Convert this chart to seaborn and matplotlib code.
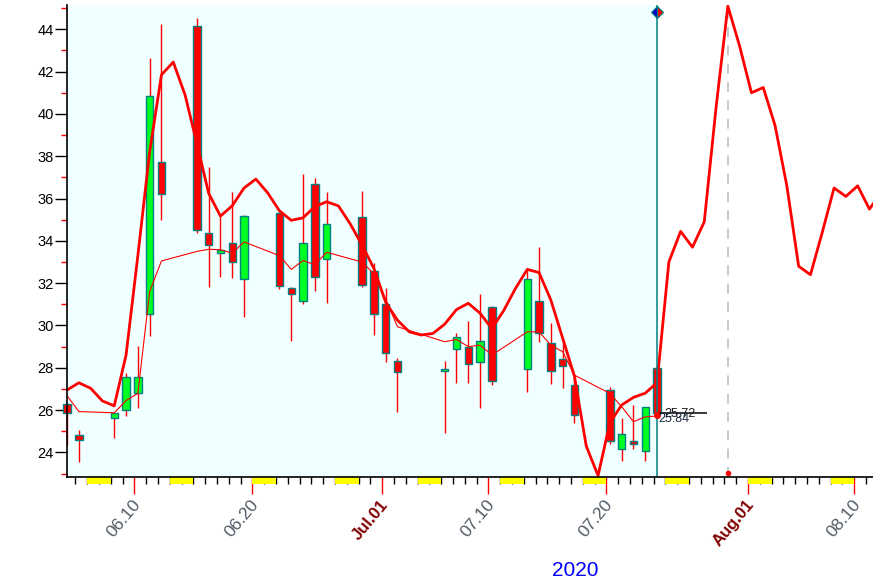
import pandas as pd
import matplotlib
matplotlib.use("Agg")
import matplotlib.pyplot as plt
import matplotlib.transforms as mtransforms
from matplotlib.patches import Rectangle
import seaborn as sns

# =========================
# data
# =========================
candle_dates = [
    "2020-06-04", "2020-06-05", "2020-06-08", "2020-06-09", "2020-06-10", "2020-06-11",
    "2020-06-12", "2020-06-15", "2020-06-16", "2020-06-17", "2020-06-18", "2020-06-19",
    "2020-06-22", "2020-06-23", "2020-06-24", "2020-06-25", "2020-06-26", "2020-06-29",
    "2020-06-30", "2020-07-01", "2020-07-02", "2020-07-06", "2020-07-07", "2020-07-08",
    "2020-07-09", "2020-07-10", "2020-07-13", "2020-07-14", "2020-07-15", "2020-07-16",
    "2020-07-17", "2020-07-20", "2020-07-21", "2020-07-22", "2020-07-23", "2020-07-24",
]
opens = [26.30, 24.82, 25.61, 26.00, 26.79, 30.52, 37.74, 44.17, 34.35, 33.41, 33.88, 32.18,
         35.30, 31.75, 31.14, 36.69, 33.13, 35.11, 32.59, 31.00, 28.33, 27.83, 28.88, 28.99,
         28.27, 30.88, 27.92, 31.17, 29.18, 28.43, 27.17, 26.96, 24.14, 24.55, 24.05, 27.97]
highs = [26.33, 25.05, 25.86, 27.73, 29.03, 42.63, 44.25, 44.52, 37.50, 35.17, 36.29, 35.20,
         35.35, 31.80, 37.16, 36.96, 36.29, 36.35, 32.94, 31.78, 28.44, 28.32, 29.63, 30.21,
         31.47, 30.90, 32.70, 33.69, 30.10, 29.15, 27.57, 27.10, 25.61, 26.24, 26.15, 28.00]
lows = [24.35, 23.56, 24.66, 25.72, 26.08, 29.50, 34.98, 34.35, 31.80, 32.30, 32.26, 30.41,
        31.71, 29.28, 31.00, 31.64, 31.07, 31.83, 29.55, 28.26, 25.92, 24.93, 27.26, 27.26,
        26.11, 27.18, 26.87, 29.23, 27.23, 27.03, 25.40, 24.38, 23.60, 24.14, 23.60, 25.80]
closes = [25.87, 24.57, 25.84, 27.57, 27.57, 40.86, 36.21, 34.51, 33.79, 33.57, 33.01, 35.19,
          31.86, 31.48, 33.88, 32.30, 34.79, 31.90, 30.52, 28.68, 27.78, 27.95, 29.47, 28.17,
          29.28, 27.37, 32.19, 29.65, 27.84, 28.08, 25.76, 24.53, 24.85, 24.38, 26.13, 25.84]
# thin moving-average line (one value per trading day)
ma_values = [26.68, 25.93, 25.87, 26.45, 26.79, 31.60, 33.05, 33.50, 33.60, 33.58, 33.42, 33.95,
             33.30, 32.65, 33.07, 32.87, 33.46, 33.00, 32.45, 31.25, 29.94, 29.23, 29.34, 29.00,
             29.07, 28.60, 29.70, 29.70, 29.07, 28.76, 27.65, 26.79, 26.16, 25.45, 25.68, 25.72]

# thick projection line (one value per calendar day, starting 06.04)
trend_start = "2020-06-04"
trend_values = [26.95, 27.29, 27.03, 26.43, 26.20, 28.60, 33.30, 38.20, 41.85, 42.45,
                40.90, 38.60, 36.25, 35.17, 35.66, 36.50, 36.92, 36.27, 35.42, 34.97,
                35.09, 35.62, 35.85, 35.65, 34.80, 33.80, 32.70, 31.10, 30.25, 29.70,
                29.55, 29.62, 30.06, 30.75, 31.05, 30.58, 29.85, 30.70, 31.75, 32.65,
                32.50, 31.20, 29.40, 27.60, 24.30, 22.90, 25.40, 26.24, 26.60, 26.80,
                27.30, 33.00, 34.45, 33.70, 34.90, 40.30, 45.10, 43.20, 41.00, 41.25,
                39.45, 36.60, 32.80, 32.40, 34.40, 36.50, 36.10, 36.60, 35.50, 36.30]

tick_dates = ["2020-06-10", "2020-06-20", "2020-07-01", "2020-07-10", "2020-07-20", "2020-08-01", "2020-08-10"]
tick_labels = ["06.10", "06.20", "Jul.01", "07.10", "07.20", "Aug.01", "08.10"]
month_labels = ["Jul.01", "Aug.01"]

last_close = 25.84
last_ma = 25.72
peak_date = "2020-07-30"
year_label = "2020"

# =========================
# helpers
# =========================
BASE = pd.Timestamp("2020-05-31")
SHIFT = 0.3  # marks sit a little right of the day tick


def day_num(d):
    return (pd.Timestamp(d) - BASE).days


cd = pd.DataFrame({"date": pd.to_datetime(candle_dates), "open": opens, "high": highs,
                   "low": lows, "close": closes, "ma": ma_values})
cd["x"] = (cd["date"] - BASE).dt.days + SHIFT
cd["up"] = cd["close"] >= cd["open"]

tr = pd.DataFrame({"date": pd.date_range(trend_start, periods=len(trend_values), freq="D"),
                   "value": trend_values})
tr["x"] = (tr["date"] - BASE).dt.days + SHIFT

sns.set_style("white")
plt.rcParams["font.family"] = ["Liberation Sans", "DejaVu Sans"]

fig = plt.figure(figsize=(8.73, 5.81), dpi=100)
ax = fig.add_axes([0.0764, 0.1795, 0.9236, 0.8119])

x_left, x_right = 4.27, 72.6
ax.set_xlim(x_left, x_right)
ax.set_ylim(22.85, 45.15)

last_x = cd["x"].iloc[-1]

# history background
ax.axvspan(x_left, last_x, color="#F0FFFF", zorder=0, lw=0)

# candles
ax.vlines(cd["x"], cd["low"], cd["high"], color="red", lw=1, zorder=2, clip_on=False)
body_bottom = cd[["open", "close"]].min(axis=1)
body_h = (cd["close"] - cd["open"]).abs()
bars = ax.bar(cd["x"], body_h, bottom=body_bottom, width=0.62,
              color=["#00FF22" if u else "#FF0000" for u in cd["up"]],
              edgecolor="#008080", linewidth=1, zorder=3)
for b in bars:
    b.set_clip_on(False)

# lines
sns.lineplot(data=tr, x="x", y="value", ax=ax, color="#FF0000", linewidth=2.0, zorder=5)
sns.lineplot(data=cd, x="x", y="ma", ax=ax, color="#FF0000", linewidth=0.8, zorder=4)

# last-bar marker line
ax.axvline(last_x, color="#008080", lw=1.1, zorder=6)
ax.plot([last_x], [44.84], marker="D", markersize=6, fillstyle="left",
        markerfacecolor="#0000CC", markerfacecoloralt="#FF0000",
        markeredgecolor="#008080", markeredgewidth=0.8, zorder=7, clip_on=False)

# close / ma annotation (overlapping, as in the source chart)
ax.hlines(last_close, last_x, last_x + 4.25, color="black", lw=1.1, zorder=6)
ax.plot([last_x], [last_ma + 0.05], "o", color="red", markersize=4, zorder=7)
ax.text(last_x + 0.65, last_close - 0.02, f"{last_ma:.2f}", fontsize=9, color="#1a1a1a",
        va="center", ha="left", zorder=8)
ax.text(last_x + 0.12, last_close - 0.28, f"{last_close:.2f}", fontsize=9, color="#1c2a44",
        va="center", ha="left", zorder=8)

# projection peak marker
peak_x = day_num(peak_date) + SHIFT
ax.axvline(peak_x, color="#C0C0C0", lw=1.2, ls=(0, (6, 5)), zorder=1)
ax.plot([peak_x], [23.02], "o", color="red", markersize=3, zorder=7)

# axes styling
for s in ["top", "right"]:
    ax.spines[s].set_visible(False)
for s in ["left", "bottom"]:
    ax.spines[s].set_color("black")
    ax.spines[s].set_linewidth(1.2)
    ax.spines[s].set_zorder(8)
ax.set_xlabel("")
ax.set_ylabel("")

ax.set_yticks(range(24, 45, 2))
ax.set_yticks(range(23, 46, 2), minor=True)
ax.tick_params(axis="y", which="major", length=8.5, width=1, color="black",
               labelsize=10.5, labelcolor="black", pad=1, direction="out", left=True)
ax.tick_params(axis="y", which="minor", length=4, width=1, color="red", left=True)

major_x = [day_num(d) for d in tick_dates]
ax.set_xticks(major_x)
ax.set_xticklabels([])
ax.set_xticks(range(5, 73), minor=True)
ax.tick_params(axis="x", which="major", length=12, width=1, color="red", bottom=True)
ax.tick_params(axis="x", which="minor", length=5, width=1, color="black", bottom=True)

# weekend strips under the axis
blend = mtransforms.blended_transform_factory(ax.transData, ax.transAxes)
for d in pd.date_range("2020-06-01", "2020-08-12", freq="D"):
    if d.dayofweek == 5:
        ax.add_patch(Rectangle(((d - BASE).days, -0.016), 2, 0.0155, transform=blend,
                               facecolor="#FFFF00", edgecolor="none", clip_on=False, zorder=1))

for xd, lab in zip(major_x, tick_labels):
    is_month = lab in month_labels
    ax.text(xd + 0.3, -0.053, lab, transform=blend, rotation=50, rotation_mode="anchor",
            ha="right", va="center", fontsize=12.5 if not is_month else 12,
            color="#800000" if is_month else "#505a64",
            fontweight="bold" if is_month else "normal", clip_on=False)

fig.text(575 / 873, 1 - 570 / 581, year_label, color="#0000FF", fontsize=15,
         ha="center", va="center")

fig.savefig("out.png", dpi=100)
